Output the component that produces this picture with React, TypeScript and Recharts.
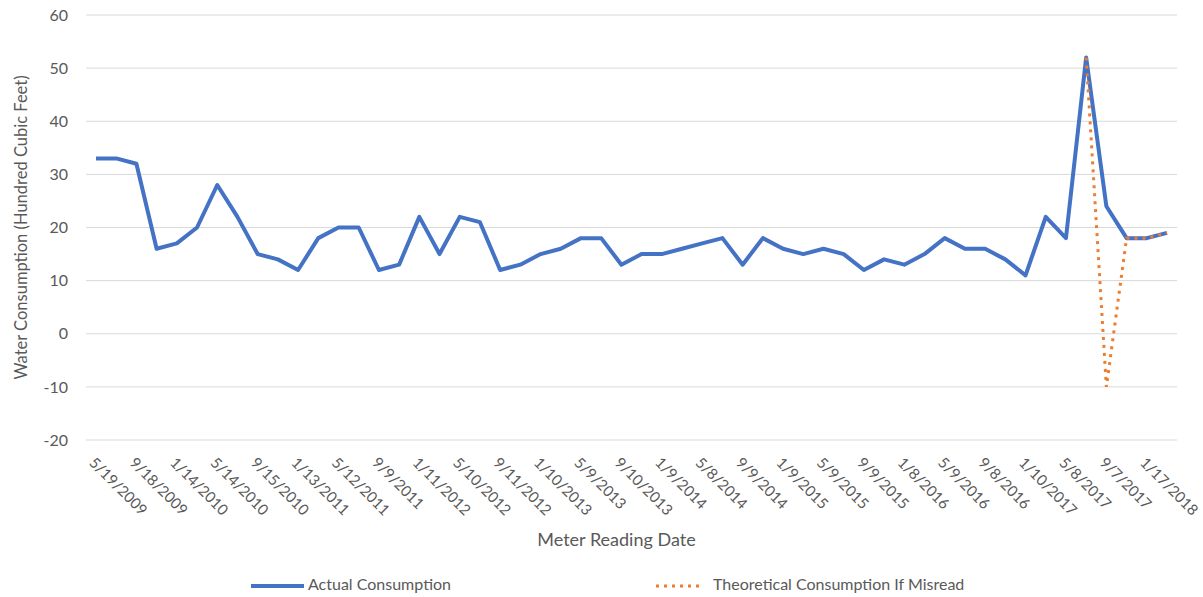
import { LineChart, Line, XAxis, YAxis, CartesianGrid, Legend } from "recharts"

// meter reading dates (only every other one is labelled on the axis)
const readingDates = [
  "5/19/2009", "7/17/2009", "9/18/2009", "11/16/2009", "1/14/2010", "3/16/2010",
  "5/14/2010", "7/15/2010", "9/15/2010", "11/12/2010", "1/13/2011", "3/15/2011",
  "5/12/2011", "7/13/2011", "9/9/2011", "11/9/2011", "1/11/2012", "3/12/2012",
  "5/10/2012", "7/11/2012", "9/11/2012", "11/9/2012", "1/10/2013", "3/11/2013",
  "5/9/2013", "7/10/2013", "9/10/2013", "11/8/2013", "1/9/2014", "3/10/2014",
  "5/8/2014", "7/9/2014", "9/9/2014", "11/7/2014", "1/9/2015", "3/10/2015",
  "5/9/2015", "7/9/2015", "9/9/2015", "11/6/2015", "1/8/2016", "3/9/2016",
  "5/9/2016", "7/8/2016", "9/8/2016", "11/7/2016", "1/10/2017", "3/9/2017",
  "5/8/2017", "7/10/2017", "9/7/2017", "11/8/2017", "1/17/2018", "3/19/2018",
]

const actualConsumption = [
  33, 33, 32, 16, 17, 20, 28, 22, 15, 14, 12, 18, 20, 20, 12, 13, 22, 15,
  22, 21, 12, 13, 15, 16, 18, 18, 13, 15, 15, 16, 17, 18, 13, 18, 16, 15,
  16, 15, 12, 14, 13, 15, 18, 16, 16, 14, 11, 22, 18, 52, 24, 18, 18, 19,
]

const misreadConsumption: (number | null)[] = [
  null, null, null, null, null, null, null, null, null, null, null, null, null, null, null, null, null, null,
  null, null, null, null, null, null, null, null, null, null, null, null, null, null, null, null, null, null,
  null, null, null, null, null, null, null, null, null, null, null, null, null, 52, -10, 18, 18, 19,
]

const yTicks = [-20, -10, 0, 10, 20, 30, 40, 50, 60]

const data = readingDates.map((date, i) => ({
  date,
  actual: actualConsumption[i],
  misread: misreadConsumption[i],
}))

const textColor = "#595959"

function DateTick(props: any) {
  const { x, y, payload } = props
  return (
    <text
      x={x}
      y={y}
      dy="0.72em"
      transform={`rotate(45, ${x}, ${y})`}
      textAnchor="start"
      fill={textColor}
      fontSize={15}
    >
      {payload.value}
    </text>
  )
}

function ChartLegend() {
  return (
    <div style={{ position: "relative", width: 1203, height: 30, color: textColor, fontSize: 16 }}>
      <svg style={{ position: "absolute", left: 251, top: 15 }} width={54} height={8}>
        <line x1={0} y1={4} x2={53} y2={4} stroke="#4472C4" strokeWidth={4} />
      </svg>
      <span style={{ position: "absolute", left: 308, top: 7, lineHeight: "20px" }}>Actual Consumption</span>
      <svg style={{ position: "absolute", left: 655, top: 15 }} width={48} height={8}>
        <line x1={1} y1={4} x2={47} y2={4} stroke="#ED7D31" strokeWidth={3} strokeDasharray="3 5" />
      </svg>
      <span style={{ position: "absolute", left: 713, top: 7, lineHeight: "20px" }}>
        Theoretical Consumption If Misread
      </span>
    </div>
  )
}

export default function App() {
  return (
    <div style={{ position: "absolute", left: 0, top: 0, width: 1203, height: 597, background: "#fff", fontFamily: "Lato" }}>
      <LineChart width={1203} height={597} data={data} margin={{ top: 15, right: 26, left: 0, bottom: 0 }}>
        <CartesianGrid horizontal vertical={false} stroke="#d9d9d9" strokeWidth={1} />
        <XAxis
          dataKey="date"
          interval={1}
          height={127}
          padding={{ left: 10, right: 10 }}
          axisLine={false}
          tickLine={false}
          tickSize={0}
          tickMargin={16}
          tick={<DateTick />}
          label={{ value: "Meter Reading Date", position: "insideBottom", offset: 21, dx: -15, fill: textColor, fontSize: 18 }}
        />
        <YAxis
          width={86}
          domain={[-20, 60]}
          ticks={yTicks}
          axisLine={false}
          tickLine={false}
          tickSize={0}
          tickMargin={18}
          tick={{ fill: textColor, fontSize: 16 }}
          label={{
            value: "Water Consumption (Hundred Cubic Feet)",
            angle: -90,
            position: "insideLeft",
            offset: 21,
            fill: textColor,
            fontSize: 16.5,
            style: { textAnchor: "middle" },
          }}
        />
        <Legend
          verticalAlign="bottom"
          wrapperStyle={{ left: 0, bottom: 0, width: 1203, height: 30 }}
          content={<ChartLegend />}
        />
        <Line
          type="linear"
          dataKey="actual"
          name="Actual Consumption"
          stroke="#4472C4"
          strokeWidth={4}
          dot={false}
          strokeLinejoin="round"
          isAnimationActive={false}
        />
        <Line
          type="linear"
          dataKey="misread"
          name="Theoretical Consumption If Misread"
          stroke="#ED7D31"
          strokeWidth={3}
          strokeDasharray="3 5"
          dot={false}
          connectNulls={false}
          isAnimationActive={false}
        />
      </LineChart>
    </div>
  )
}
